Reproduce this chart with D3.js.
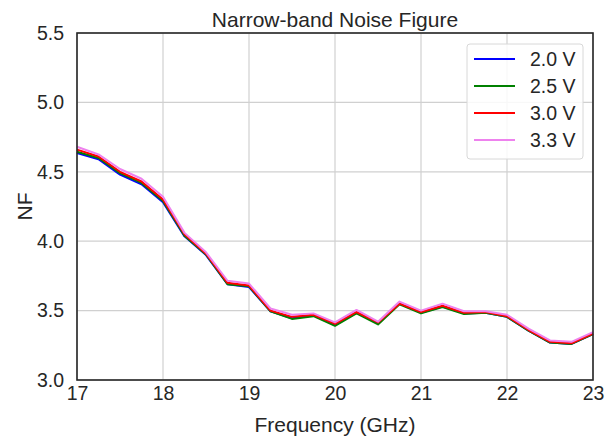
<!DOCTYPE html>
<html>
<head>
<meta charset="utf-8">
<script src="https://cdn.jsdelivr.net/npm/d3@7"></script>
<style>
  body { margin: 0; background: #fff; }
  svg text { font-family: "Liberation Sans", Arial, sans-serif; fill: #262626; }
</style>
</head>
<body>
<svg id="chart" width="611" height="439"></svg>
<script>
// frequency points (GHz)
const freqs = [17, 17.25, 17.5, 17.75, 18, 18.25, 18.5, 18.75, 19, 19.25, 19.5, 19.75, 20,
               20.25, 20.5, 20.75, 21, 21.25, 21.5, 21.75, 22, 22.25, 22.5, 22.75, 23];

// NF per supply voltage
const nf20 = [4.635, 4.59, 4.48, 4.41, 4.28, 4.035, 3.90, 3.69, 3.67, 3.495, 3.445, 3.465, 3.395,
              3.485, 3.41, 3.55, 3.485, 3.53, 3.48, 3.485, 3.455, 3.355, 3.27, 3.26, 3.33];
const nf25 = [4.645, 4.60, 4.49, 4.42, 4.29, 4.04, 3.905, 3.69, 3.675, 3.495, 3.44, 3.46, 3.39,
              3.48, 3.40, 3.545, 3.48, 3.525, 3.475, 3.485, 3.455, 3.355, 3.27, 3.26, 3.33];
const nf30 = [4.66, 4.61, 4.50, 4.43, 4.30, 4.05, 3.91, 3.70, 3.68, 3.50, 3.455, 3.47, 3.405,
              3.49, 3.415, 3.55, 3.49, 3.535, 3.485, 3.49, 3.46, 3.36, 3.275, 3.265, 3.335];
const nf33 = [4.68, 4.625, 4.52, 4.45, 4.32, 4.06, 3.92, 3.715, 3.695, 3.515, 3.47, 3.48, 3.415,
              3.505, 3.42, 3.565, 3.50, 3.55, 3.495, 3.495, 3.47, 3.37, 3.285, 3.275, 3.345];

const seriesNames = ["2.0 V", "2.5 V", "3.0 V", "3.3 V"];
const seriesColors = ["#0000ff", "#008000", "#ff0000", "#ee82ee"];
const xTicks = [17, 18, 19, 20, 21, 22, 23];
const yTicks = [3.0, 3.5, 4.0, 4.5, 5.0, 5.5];

const svg = d3.select("#chart");
const margin = {top: 33, right: 18, bottom: 59, left: 77};
const w = 611 - margin.left - margin.right;
const h = 439 - margin.top - margin.bottom;
const g = svg.append("g").attr("transform", `translate(${margin.left},${margin.top})`);

const x = d3.scaleLinear().domain([17, 23]).range([0, w]);
const y = d3.scaleLinear().domain([3.0, 5.5]).range([h, 0]);

// grid
g.append("g").selectAll("line").data(xTicks).join("line")
    .attr("x1", d => x(d)).attr("x2", d => x(d)).attr("y1", 0).attr("y2", h)
    .attr("stroke", "#d0d0d0").attr("stroke-width", 1.2);
g.append("g").selectAll("line").data(yTicks).join("line")
    .attr("x1", 0).attr("x2", w).attr("y1", d => y(d)).attr("y2", d => y(d))
    .attr("stroke", "#d0d0d0").attr("stroke-width", 1.2);

// axes (labels only, no tick marks)
const xAxis = g.append("g").attr("transform", `translate(0,${h})`)
    .call(d3.axisBottom(x).tickValues(xTicks).tickFormat(d3.format("d")).tickSize(0).tickPadding(6));
const yAxis = g.append("g")
    .call(d3.axisLeft(y).tickValues(yTicks).tickFormat(d3.format(".1f")).tickSize(0).tickPadding(13));
[xAxis, yAxis].forEach(a => {
    a.select(".domain").remove();
    a.selectAll("text").style("font-size", "19.5px").attr("fill", "#262626");
});

// lines
const series = [nf20, nf25, nf30, nf33];
const line = d3.line().x((d, i) => x(freqs[i])).y(d => y(d));
series.forEach((s, k) => {
    g.append("path").datum(s)
        .attr("fill", "none")
        .attr("stroke", seriesColors[k])
        .attr("stroke-width", 2)
        .attr("stroke-linejoin", "round")
        .attr("d", line);
});

// frame
g.append("rect").attr("width", w).attr("height", h)
    .attr("fill", "none").attr("stroke", "#262626").attr("stroke-width", 1.6);

// title + axis labels
svg.append("text").attr("x", margin.left + w / 2).attr("y", 27)
    .attr("text-anchor", "middle").style("font-size", "21px").text("Narrow-band Noise Figure");
svg.append("text").attr("x", margin.left + w / 2).attr("y", 432)
    .attr("text-anchor", "middle").style("font-size", "21px").text("Frequency (GHz)");
svg.append("text").attr("transform", `translate(32,${margin.top + h / 2}) rotate(-90)`)
    .attr("text-anchor", "middle").style("font-size", "21px").text("NF");

// legend
const leg = svg.append("g").attr("transform", "translate(467,44)");
leg.append("rect").attr("width", 116).attr("height", 115).attr("rx", 3)
    .attr("fill", "#fff").attr("fill-opacity", 0.85).attr("stroke", "#d8d8d8");
seriesNames.forEach((name, k) => {
    const row = leg.append("g").attr("transform", `translate(0,${15 + k * 27})`);
    row.append("line").attr("x1", 7).attr("x2", 48).attr("y1", 0).attr("y2", 0)
        .attr("stroke", seriesColors[k]).attr("stroke-width", 2);
    row.append("text").attr("x", 63).attr("y", 7).style("font-size", "19.5px").text(name);
});
</script>
</body>
</html>
